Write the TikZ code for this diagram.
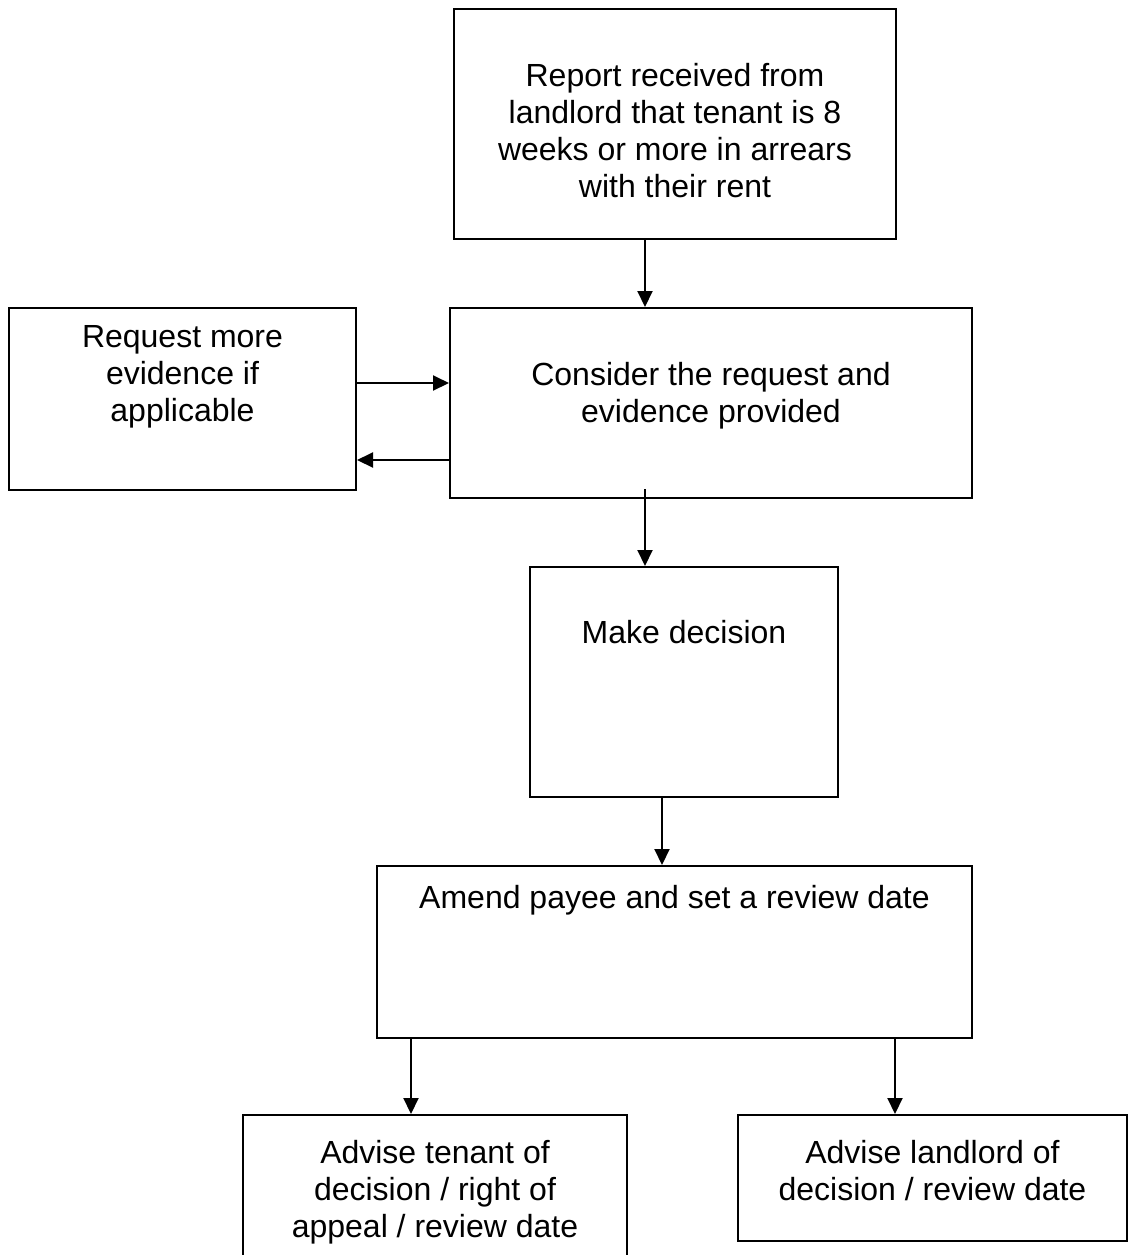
\documentclass[tikz,border=0pt]{standalone}
\usepackage{fontspec}
\setmainfont{Liberation Sans}
\usetikzlibrary{positioning,calc,arrows.meta}
\tikzset{
  box/.style={draw, rectangle, line width=1pt, anchor=north west, inner sep=0pt},
  boxtext/.style={align=center, inner sep=0pt, anchor=north, font=\fontsize{16}{18.5}\selectfont},
  arr/.style={line width=1pt, -{Triangle[length=8pt,width=7.5pt]}}
}
\begin{document}
\begin{tikzpicture}[x=0.5pt,y=-0.5pt]
  \useasboundingbox (0,0) rectangle (1134,1255);
  \clip (0,0) rectangle (1134,1255);

  % Drawing the boxes
  \node[box, minimum width=221pt, minimum height=115pt] (report) at (453,8) {};
  \node[box, minimum width=173.5pt, minimum height=91pt] (request) at (8,307) {};
  \node[box, minimum width=261pt, minimum height=95pt] (consider) at (449,307) {};
  \node[box, minimum width=154pt, minimum height=115pt] (decision) at (529,566) {};
  \node[box, minimum width=297.5pt, minimum height=86pt] (amend) at (376,865) {};
  \node[box, minimum width=192pt, minimum height=85pt] (tenant) at (242,1114) {};
  \node[box, minimum width=194.5pt, minimum height=63pt] (landlord) at (737,1114) {};

  % Texts in the boxes
  \node[boxtext, below=27.5pt of report.north] (reporttext)
    {Report received from\\landlord that tenant is 8\\weeks or more in arrears\\with their rent};
  \node[boxtext, below=9pt of request.north] (requesttext)
    {Request more\\evidence if\\applicable};
  \node[boxtext, below=27.5pt of consider.north] (considertext)
    {Consider the request and\\evidence provided};
  \node[boxtext, below=27pt of decision.north] (decisiontext) {Make decision};
  \node[boxtext, below=10pt of amend.north] (amendtext) {Amend payee and set a review date};
  \node[boxtext, below=13pt of tenant.north] (tenanttext)
    {Advise tenant of\\decision / right of\\appeal / review date};
  \node[boxtext, below=13pt of landlord.north] (landlordtext)
    {Advise landlord of\\decision / review date};

  % Where the connectors run
  \coordinate (mainline) at (645,0);
  \coordinate (decline) at (662,0);
  \coordinate (tenantline) at (411,0);
  \coordinate (landlordline) at (895,0);
  \coordinate (toline) at (0,383);
  \coordinate (backline) at (0,460);

  % Drawing the connectors
  \draw[arr] (report.south -| mainline) -- (consider.north -| mainline);
  \draw[arr] (request.east |- toline) -- (consider.west |- toline);
  \draw[arr] (consider.west |- backline) -- (request.east |- backline);
  \draw[arr] ($(consider.south -| mainline)+(0,-10)$) -- (decision.north -| mainline);
  \draw[arr] (decision.south -| decline) -- (amend.north -| decline);
  \draw[arr] (amend.south -| tenantline) -- (tenant.north -| tenantline);
  \draw[arr] (amend.south -| landlordline) -- (landlord.north -| landlordline);
\end{tikzpicture}
\end{document}
